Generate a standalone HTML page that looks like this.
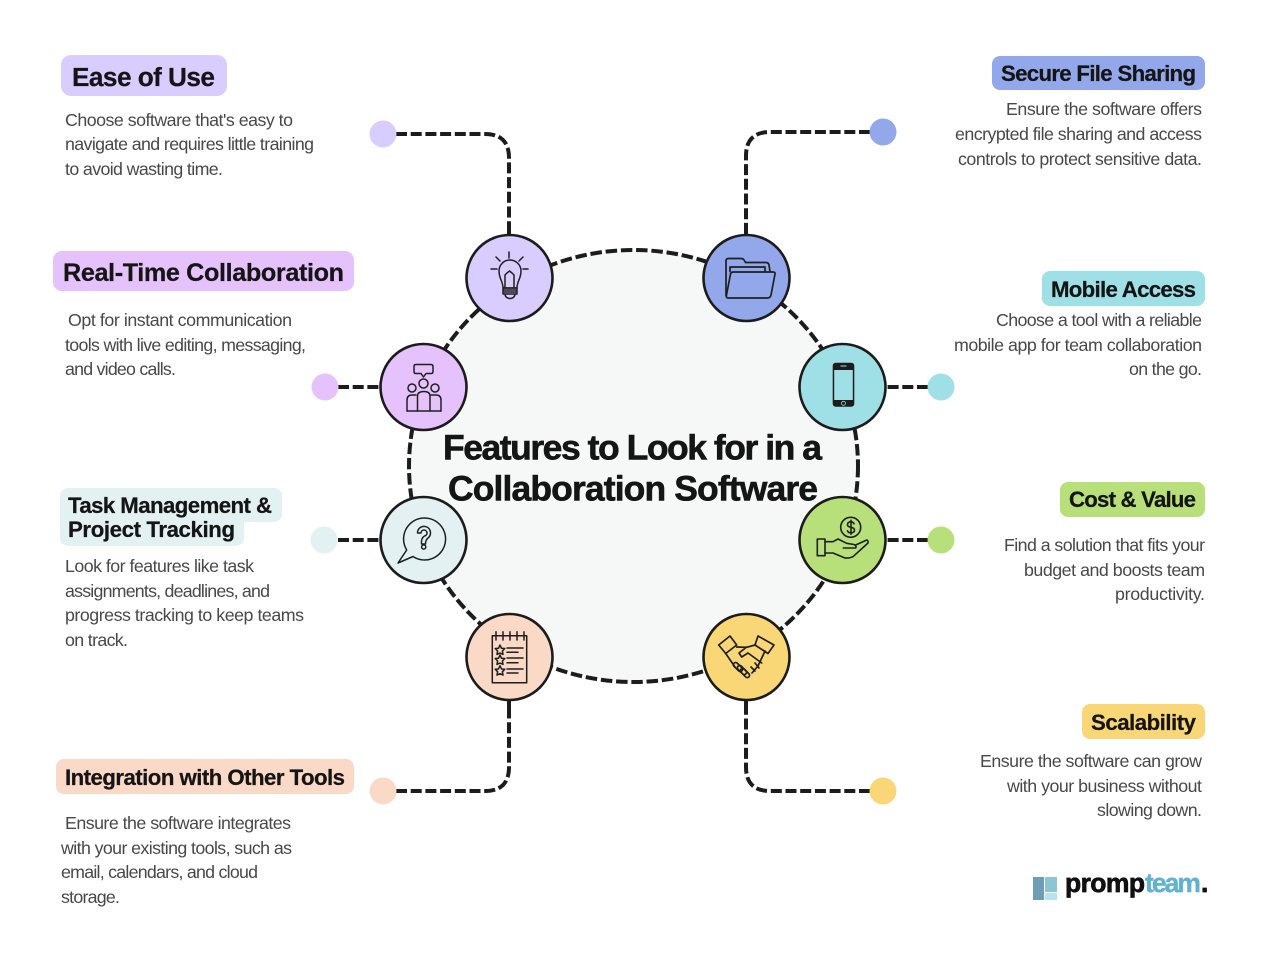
<!DOCTYPE html>
<html lang="en">
<head>
<meta charset="utf-8">
<title>Features to Look for in a Collaboration Software</title>
<style>
html,body{margin:0;padding:0;background:#fff;width:1275px;height:959px;overflow:hidden}
svg{display:block}
text{font-family:"Liberation Sans",sans-serif}
.b{font-size:17.800px;fill:#484848}
.h{font-weight:700;fill:#151515;stroke:#151515;stroke-width:.25px}
.d{fill:none;stroke:#1c1c1c;stroke-width:4;stroke-dasharray:11 3.700}
.s{fill:none;stroke:#1c1c1c;stroke-width:4}
.c{stroke:#1c1c1c;stroke-width:2.600}
.i{fill:none;stroke:#1f1f1f;stroke-width:1.500;stroke-linecap:round;stroke-linejoin:round}
</style>
</head>
<body>
<svg width="1275" height="959" viewBox="0 0 1275 959" xmlns="http://www.w3.org/2000/svg">
<rect width="1275" height="959" fill="#fff"/>

<!-- central ellipse -->
<ellipse cx="633.500" cy="466" rx="224.500" ry="216" fill="#f6f8f7" stroke="#1c1c1c" stroke-width="4" stroke-dasharray="11.500 3.800"/>

<!-- connectors -->
<path class="d" d="M396 134H485Q509 134 509 158V236"/>
<path class="d" d="M870 132H770Q746 132 746 156V236"/>
<path class="s" d="M509 225V236M746 225V236"/>
<path class="d" d="M338 387H381"/>
<path class="d" d="M928 387H885"/>
<path class="d" d="M338 540H381"/>
<path class="d" d="M928 540H885"/>
<path class="d" d="M396 791H485Q509 791 509 767V699"/>
<path class="d" d="M870 791H770Q746 791 746 767V699"/>
<path class="s" d="M509 699V711M746 699V711"/>

<!-- end dots -->
<circle cx="383" cy="134" r="13.500" fill="#d9ccff"/>
<circle cx="883" cy="132" r="13.500" fill="#93a8ea"/>
<circle cx="325" cy="387" r="13.500" fill="#e5c2fb"/>
<circle cx="941" cy="387" r="13.500" fill="#9ee0e6"/>
<circle cx="324" cy="540" r="13.500" fill="#e3f1f3"/>
<circle cx="941" cy="540" r="13.500" fill="#b8e07a"/>
<circle cx="383" cy="791" r="13.500" fill="#fad9c6"/>
<circle cx="883" cy="791" r="13.500" fill="#fad776"/>

<!-- node circles -->
<circle class="c" cx="509.500" cy="278" r="43" fill="#d9ccff"/>
<circle class="c" cx="746.500" cy="278" r="43" fill="#93a8ea"/>
<circle class="c" cx="423.500" cy="387" r="43" fill="#e5c2fb"/>
<circle class="c" cx="842.500" cy="387" r="43" fill="#9ee0e6"/>
<circle class="c" cx="423.500" cy="540" r="43" fill="#e3f1f3"/>
<circle class="c" cx="842.500" cy="540" r="43" fill="#b8e07a"/>
<circle class="c" cx="509.500" cy="657" r="43" fill="#fad9c6"/>
<circle class="c" cx="746.500" cy="657" r="43" fill="#fad776"/>

<!-- lightbulb -->
<g class="i">
<path d="M509 252V258M496 257L500 261M523 257L519 261M491 269H497M523 269H528"/>
<path d="M503 288C503 281 499 279 499 271A10.500 10.500 0 0 1 521 271C521 279 517 281 517 288Z"/>
<path d="M505 287V275L507 273L509.500 271L512 273L514 275V287"/>
<path d="M503 288H517V294H503ZM503 290H517M503 292H517"/>
<path d="M505 294C505 300 515 300 515 294"/>
</g>
<!-- folder -->
<g class="i" style="stroke-width:1.700">
<path d="M726 296V261Q726 258.500 728.500 258.500H741Q743 258.500 744 260L745.500 262.500H766Q768.500 262.500 769 265L770 271.500"/>
<path d="M730 271.500V267H765V271.500"/>
<path d="M728 298Q726 298 726.500 295L730.500 274Q731 272 733.500 272H773Q775.500 272 775 274L771 295Q770.500 298 767 298Z"/>
</g>
<!-- team -->
<g class="i">
<path d="M416 364.500H431Q433 364.500 433 366.500V371.500Q433 373.500 431 373.500H426L423.500 377L421 373.500H416Q414 373.500 414 371.500V366.500Q414 364.500 416 364.500Z"/>
<circle cx="423.500" cy="383.500" r="4.500"/>
<circle cx="412" cy="388" r="4"/>
<circle cx="435" cy="388" r="4"/>
<path d="M407 411V400Q407 395 412 395H416M441 411V400Q441 395 436 395H431"/>
<path d="M417.500 411V396Q417.500 391.500 424 391.500Q430 391.500 430 396V411"/>
<path d="M407 411H441"/>
</g>
<!-- phone -->
<rect x="832.700" y="362.700" width="21.600" height="44" rx="3" fill="#1c1c1c"/>
<rect x="834.200" y="370" width="18.600" height="30" fill="#9ee0e6"/>
<circle cx="843.500" cy="403.300" r="2" fill="none" stroke="#9ee0e6" stroke-width=".8"/>
<rect x="840.500" y="365.500" width="6" height="1" fill="#9ee0e6"/>
<!-- question bubble -->
<g class="i">
<path d="M406.700 550A21 21 0 1 1 413 556.500L398 563Z"/>
<path d="M417.500 533A6.500 6.500 0 1 1 428 538Q425.500 540 425.500 544H421.500Q421 538 424.500 536A3 3 0 1 0 421 533Z"/>
<circle cx="423.700" cy="547" r="2.100"/>
</g>
<!-- money hand -->
<g class="i" style="stroke-width:1.600">
<circle cx="850.700" cy="527.300" r="10"/>
<path d="M854 523.800Q853 521.800 851 521.800Q847.500 521.800 847.500 524.800Q847.500 526.800 851 527.300Q854.500 527.800 854.500 530.300Q854.500 532.800 851 532.800Q848 532.800 847.500 530.800M851 520.300V534.300"/>
<path d="M817.300 539H825V555.700H817.300Z"/>
<path d="M825 541.700H833L838 539L846.700 543.300L854 544.500Q857 546 855.700 548H843.300M825 553H833L845 558Q849 558.500 853 556.700L868 543Q868.500 540.500 866.700 540L855.700 545"/>
</g>
<!-- handshake -->
<g class="i" style="stroke-width:1.700">
<path d="M718.700 645L730 636L736.700 645L725.700 653.500Z"/>
<path d="M758 636L774 645L768 653.500L755 645Z"/>
<path d="M736.700 647L746.700 647.300L755 645M746.700 647L739 653L741.700 657L748 653L761.700 663"/>
<path d="M725.700 653.500L735 667M765 651L758 666L752 673"/>
<rect x="732.500" y="664.800" width="11" height="4.500" rx="2.200" transform="rotate(45 738 667)"/>
<rect x="736.500" y="667.800" width="11" height="4.500" rx="2.200" transform="rotate(45 742 670)"/>
<rect x="739.500" y="670.800" width="11" height="4.500" rx="2.200" transform="rotate(45 745 673)"/>
<path d="M751 667L755 671M755 663L759 668"/>
</g>
<!-- notepad -->
<g class="i">
<rect x="492.300" y="635.700" width="34.400" height="47"/>
<path d="M496 631.700V640M503 631.700V640M510 631.700V640M517 631.700V640M524 631.700V640"/>
<path d="M500 645L501.500 648.300L504.800 648.500L502.400 651L503 654.400L500 653L497 654.400L497.600 651L495.200 648.500L498.500 648.300Z"/>
<path d="M500 655L501.500 658.300L504.800 658.500L502.400 661L503 664.400L500 663L497 664.400L497.600 661L495.200 658.500L498.500 658.300Z"/>
<path d="M500 665.700L501.500 669L504.800 669.200L502.400 671.700L503 675.100L500 673.700L497 675.100L497.600 671.700L495.200 669.200L498.500 669Z"/>
<path d="M507 648H523M507 652.300H518M507 658H523M507 662.700H518M507 669H523M507 673H518"/>
</g>

<!-- pills -->
<rect x="61" y="55" width="166" height="41" rx="10" fill="#d9ccff"/>
<rect x="992" y="56" width="213" height="34" rx="8" fill="#93a8ea"/>
<rect x="53" y="251" width="301" height="40" rx="9" fill="#e5c2fb"/>
<rect x="1042" y="271" width="163" height="35" rx="8" fill="#9ee0e6"/>
<rect x="60" y="488" width="222" height="34" rx="8" fill="#e3f1f3"/>
<rect x="60" y="510" width="184" height="36" rx="8" fill="#e3f1f3"/>
<rect x="1060" y="482" width="145" height="35" rx="8" fill="#b8e07a"/>
<rect x="1082" y="704" width="123" height="35" rx="8" fill="#fad776"/>
<rect x="56" y="759" width="298" height="35" rx="8" fill="#fad9c6"/>

<!-- headings -->
<text class="h" x="72" y="86" font-size="26.200" textLength="143" lengthAdjust="spacing">Ease of Use</text>
<text class="h" x="1001" y="81" font-size="22.200" textLength="195" lengthAdjust="spacing">Secure File Sharing</text>
<text class="h" x="63" y="281" font-size="25.200" textLength="281" lengthAdjust="spacing">Real-Time Collaboration</text>
<text class="h" x="1051" y="297" font-size="22.200" textLength="145" lengthAdjust="spacing">Mobile Access</text>
<text class="h" x="68" y="513" font-size="22.200" textLength="204" lengthAdjust="spacing">Task Management &amp;</text>
<text class="h" x="68" y="537" font-size="22.200" textLength="167" lengthAdjust="spacing">Project Tracking</text>
<text class="h" x="1069" y="507" font-size="22.200" textLength="127" lengthAdjust="spacing">Cost &amp; Value</text>
<text class="h" x="1091" y="730" font-size="22.200" textLength="105" lengthAdjust="spacing">Scalability</text>
<text class="h" x="65" y="785" font-size="22.200" textLength="280" lengthAdjust="spacing">Integration with Other Tools</text>

<!-- title -->
<text class="h" style="stroke-width:.6px" x="443" y="459.500" font-size="35.500" textLength="379" lengthAdjust="spacing">Features to Look for in a</text>
<text class="h" style="stroke-width:.6px" x="448" y="500.500" font-size="35.500" textLength="370" lengthAdjust="spacing">Collaboration Software</text>

<!-- body text -->
<g class="b">
<text x="65" y="126" textLength="228" lengthAdjust="spacing">Choose software that's easy to</text>
<text x="65" y="150" textLength="249" lengthAdjust="spacing">navigate and requires little training</text>
<text x="65" y="175" textLength="158" lengthAdjust="spacing">to avoid wasting time.</text>

<text x="1006" y="115" textLength="196" lengthAdjust="spacing">Ensure the software offers</text>
<text x="955" y="140" textLength="247" lengthAdjust="spacing">encrypted file sharing and access</text>
<text x="958" y="165" textLength="244" lengthAdjust="spacing">controls to protect sensitive data.</text>

<text x="68" y="326" textLength="224" lengthAdjust="spacing">Opt for instant communication</text>
<text x="65" y="351" textLength="241" lengthAdjust="spacing">tools with live editing, messaging,</text>
<text x="65" y="375" textLength="111" lengthAdjust="spacing">and video calls.</text>

<text x="996" y="326" textLength="206" lengthAdjust="spacing">Choose a tool with a reliable</text>
<text x="954" y="351" textLength="248" lengthAdjust="spacing">mobile app for team collaboration</text>
<text x="1129" y="375" textLength="73" lengthAdjust="spacing">on the go.</text>

<text x="65" y="572" textLength="189" lengthAdjust="spacing">Look for features like task</text>
<text x="65" y="597" textLength="205" lengthAdjust="spacing">assignments, deadlines, and</text>
<text x="65" y="621" textLength="239" lengthAdjust="spacing">progress tracking to keep teams</text>
<text x="65" y="646" textLength="63" lengthAdjust="spacing">on track.</text>

<text x="1004" y="551" textLength="201" lengthAdjust="spacing">Find a solution that fits your</text>
<text x="1024" y="576" textLength="181" lengthAdjust="spacing">budget and boosts team</text>
<text x="1115" y="600" textLength="90" lengthAdjust="spacing">productivity.</text>

<text x="980" y="767" textLength="222" lengthAdjust="spacing">Ensure the software can grow</text>
<text x="1007" y="792" textLength="195" lengthAdjust="spacing">with your business without</text>
<text x="1097" y="816" textLength="105" lengthAdjust="spacing">slowing down.</text>

<text x="65" y="829" textLength="226" lengthAdjust="spacing">Ensure the software integrates</text>
<text x="61" y="854" textLength="231" lengthAdjust="spacing">with your existing tools, such as</text>
<text x="61" y="878" textLength="197" lengthAdjust="spacing">email, calendars, and cloud</text>
<text x="61" y="903" textLength="59" lengthAdjust="spacing">storage.</text>
</g>

<!-- logo -->
<rect x="1033" y="877" width="11" height="23" fill="#6e9db5"/>
<rect x="1045" y="877" width="12" height="15" fill="#8cc5d6"/>
<rect x="1045" y="893" width="12" height="7" fill="#b5e4f0"/>
<text x="1065" y="892" font-size="26.500" font-weight="700" fill="#111" stroke="#111" stroke-width=".7" textLength="80" lengthAdjust="spacing">promp</text>
<text x="1145" y="892" font-size="26.500" font-weight="700" fill="#5fb3d0" stroke="#5fb3d0" stroke-width=".4" textLength="56" lengthAdjust="spacing">team</text>
<text x="1201" y="892" font-size="26.500" font-weight="700" fill="#111" stroke="#111" stroke-width=".7">.</text>
</svg>
</body>
</html>
